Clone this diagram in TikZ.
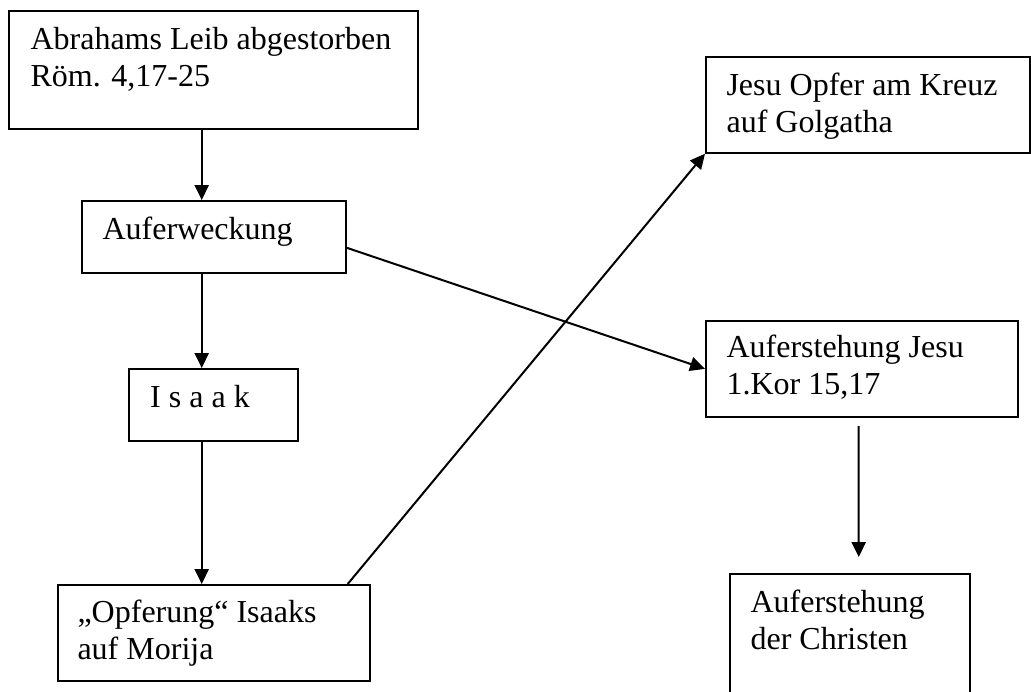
\documentclass[tikz,border=0pt]{standalone}
\usepackage{fontspec}
\setmainfont{Liberation Serif}
\usetikzlibrary{arrows.meta, calc, fit}

\begin{document}
\begin{tikzpicture}[x=0.375pt, y=-0.375pt,
  box/.style={draw, line width=0.75pt, inner sep=0pt},
  txt/.style={anchor=north west, align=left, inner sep=0pt, font=\fontsize{12}{13.9}\selectfont},
  arr/.style={line width=0.75pt, -{Triangle[length=5.6pt, width=5.3pt]}}]
\useasboundingbox (0,0) rectangle (1031,691);
% left column: Abraham -> Auferweckung -> Isaak -> Opferung
\node[box, fit={(9.3,10.7) (418,128.7)}] (abraham) {};
\node[txt] (abrahamtxt) at ($(abraham.north west)+(21.7,13.4)$) {\strut Abrahams Leib abgestorben\\Röm. 4,17-25};
\node[box, fit={(81.7,201) (346,272.7)}] (auferw) {};
\node[txt] (auferwtxt) at ($(auferw.north west)+(21.3,13.1)$) {\strut Auferweckung};
\node[box, fit={(129.3,369) (297.7,440.7)}] (isaak) {};
\node[txt] (isaaktxt) at ($(isaak.north west)+(21.4,13.1)$) {\strut I s a a k};
\node[box, fit={(57.7,585) (370,681)}] (opfer) {};
\node[txt] (opfertxt) at ($(opfer.north west)+(20.3,12.1)$) {\strut „Opferung“ Isaaks\\auf Morija};
% right column: Golgatha, Auferstehung Jesu -> Christen
\node[box, fit={(706,56.7) (1030,152.7)}] (kreuz) {};
\node[txt] (kreuztxt) at ($(kreuz.north west)+(21,13.4)$) {\strut Jesu Opfer am Kreuz\\auf Golgatha};
\node[box, fit={(706,321) (1018,416.7)}] (jesu) {};
\node[txt] (jesutxt) at ($(jesu.north west)+(21,11.1)$) {\strut Auferstehung Jesu\\1.Kor 15,17};
\node[box, fit={(730,574) (970,696)}] (christen) {};
\node[txt] (christentxt) at ($(christen.north west)+(21,13.1)$) {\strut Auferstehung\\der Christen};
% connectors
\coordinate (spine) at (201.7,0);
\draw[arr] (abraham.south -| spine) -- (auferw.north -| spine);
\draw[arr] (auferw.south -| spine) -- (isaak.north -| spine);
\draw[arr] (isaak.south -| spine) -- (opfer.north -| spine);
\draw[arr] ($(opfer.north east)+(-23.3,0)$) -- (kreuz.south west);
\draw[arr] ($(auferw.east)+(0,11)$) -- (jesu.west);
\coordinate (jesuout) at ($(jesu.south)+(-3.3,8.3)$);
\coordinate (christenin) at ($(christen.north)+(8.7,-16)$);
\draw[arr] (jesuout) -- (christenin);
\end{tikzpicture}
\end{document}
